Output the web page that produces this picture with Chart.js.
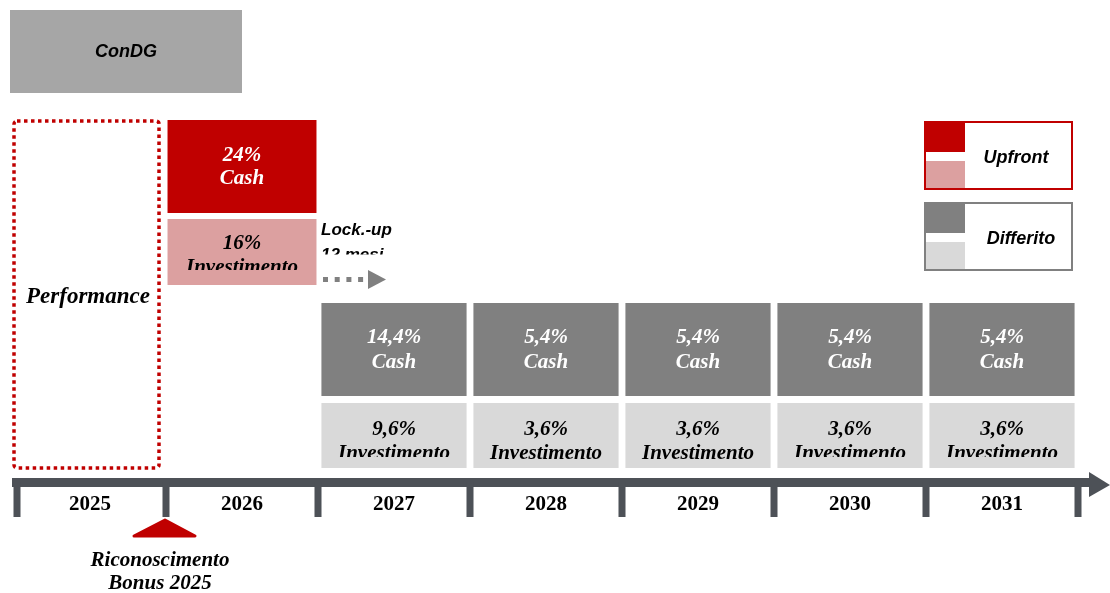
<!DOCTYPE html>
<html>
<head>
<meta charset="utf-8">
<script src="https://cdn.jsdelivr.net/npm/chart.js@4.4.1/dist/chart.umd.min.js"></script>
<style>
  html, body { margin: 0; padding: 0; background: #fff; }
  #wrap { width: 1110px; height: 593px; position: relative; }
</style>
</head>
<body>
<div id="wrap"><canvas id="plan"></canvas></div>
<script>
// Piano di pagamento bonus (percentuali)
const years = ["2025", "2026", "2027", "2028", "2029", "2030", "2031"]
const upfrontCash = [null, 24, null, null, null, null, null]
const upfrontInvest = [null, 16, null, null, null, null, null]
const deferredCash = [null, null, 14.4, 5.4, 5.4, 5.4, 5.4]
const deferredInvest = [null, null, 9.6, 3.6, 3.6, 3.6, 3.6]

// vertical bands of the layout (y axis runs top -> bottom, in px units)
const bands = {
  upCash: [120, 213],
  upInv: [219, 285],
  defCash: [303, 396],
  defInv: [403, 468],
}
// labels that overflow their text frame in the original
const clippedInvest = [1, 2, 5, 6]

const RED = "#c00000"
const PINK = "#dca0a0"
const DARK = "#808080"
const LIGHT = "#d9d9d9"
const AXIS = "#4d5157"
const SERIF = "'Liberation Serif', 'Times New Roman', serif"
const SANS = "'Liberation Sans', Arial, sans-serif"

function toBand(values, band) {
  return values.map((v) => (v === null ? null : band.slice()))
}

function pct(v) {
  return v.toLocaleString("it-IT") + "%"
}

const overlay = {
  id: "overlay",
  afterDatasetsDraw(chart) {
    const ctx = chart.ctx
    const xs = chart.scales.x
    const pitch = xs.getPixelForValue(1) - xs.getPixelForValue(0)
    const cx = (i) => xs.getPixelForValue(i)
    ctx.save()
    ctx.textAlign = "center"
    ctx.textBaseline = "middle"

    // ConDG header
    ctx.fillStyle = "#a6a6a6"
    ctx.fillRect(cx(0) - 80, 10, cx(1) - cx(0) + 80, 83)
    ctx.fillStyle = "#000"
    ctx.font = "italic bold 18px " + SANS
    ctx.fillText("ConDG", (cx(0) - 80 + cx(1)) / 2, 52)

    // Performance dotted frame
    ctx.strokeStyle = RED
    ctx.lineWidth = 3.5
    ctx.setLineDash([3.5, 3.5])
    ctx.beginPath()
    ctx.roundRect(cx(0) - 76, 121, 145, 347, 3)
    ctx.stroke()
    ctx.setLineDash([])
    ctx.fillStyle = "#000"
    ctx.font = "italic bold 23px " + SERIF
    ctx.fillText("Performance", cx(0) - 2, 297)

    // texts inside the boxes
    const boxText = (dsIndex, values, word, color, dy1, dy2, clipList, cut) => {
      const meta = chart.getDatasetMeta(dsIndex)
      values.forEach((v, i) => {
        if (v === null) return
        const bar = meta.data[i]
        const top = Math.min(bar.y, bar.base)
        ctx.save()
        if (clipList && clipList.includes(i)) {
          ctx.beginPath()
          ctx.rect(bar.x - bar.width / 2, top, bar.width, dy2 + cut)
          ctx.clip()
        }
        ctx.fillStyle = color
        ctx.font = "italic bold 21px " + SERIF
        ctx.fillText(pct(v), bar.x, top + dy1)
        ctx.fillText(word, bar.x, top + dy2)
        ctx.restore()
      })
    }
    boxText(0, upfrontCash, "Cash", "#fff", 36, 59)
    boxText(1, upfrontInvest, "Investimento", "#000", 25, 49, clippedInvest, 2)
    boxText(2, deferredCash, "Cash", "#fff", 35, 60)
    boxText(3, deferredInvest, "Investimento", "#000", 27, 51, clippedInvest, 3)

    // Lock-up note and dotted arrow
    const lx = cx(2) - pitch / 2 + 3
    ctx.textAlign = "left"
    ctx.fillStyle = "#000"
    ctx.font = "italic bold 17px " + SANS
    ctx.fillText("Lock.-up", lx, 230)
    ctx.save()
    ctx.beginPath()
    ctx.rect(lx - 5, 242, 120, 12.5)
    ctx.clip()
    ctx.fillText("12 mesi", lx, 255)
    ctx.restore()
    ctx.fillStyle = DARK
    for (let k = 0; k < 4; k++) ctx.fillRect(lx + 2 + k * 11.7, 277, 5, 5)
    ctx.beginPath()
    ctx.moveTo(lx + 47, 270)
    ctx.lineTo(lx + 65, 279.5)
    ctx.lineTo(lx + 47, 289)
    ctx.closePath()
    ctx.fill()

    // legend boxes
    const legend = (y, border, c1, c2, label, tx) => {
      ctx.fillStyle = c1
      ctx.fillRect(925, y, 40, 30)
      ctx.fillStyle = c2
      ctx.fillRect(925, y + 39, 40, 28)
      ctx.strokeStyle = border
      ctx.lineWidth = 2
      ctx.strokeRect(925, y, 147, 67)
      ctx.fillStyle = "#000"
      ctx.textAlign = "center"
      ctx.font = "italic bold 18px " + SANS
      ctx.fillText(label, tx, y + 36)
    }
    legend(122, RED, RED, PINK, "Upfront", 1016)
    legend(203, DARK, DARK, LIGHT, "Differito", 1021)

    // timeline axis
    ctx.fillStyle = AXIS
    ctx.fillRect(12, 478, 1080, 9)
    ctx.beginPath()
    ctx.moveTo(1089, 472)
    ctx.lineTo(1110, 485)
    ctx.lineTo(1089, 497)
    ctx.closePath()
    ctx.fill()
    for (let i = 0; i <= years.length; i++) {
      let tx = cx(0) + (i - 0.5) * pitch
      if (i === 0) tx += 3
      ctx.fillRect(tx - 3.5, 482, 7, 35)
    }
    ctx.fillStyle = "#000"
    ctx.font = "bold 21px " + SERIF
    years.forEach((y, i) => ctx.fillText(y, cx(i), 505))

    // bonus recognition marker
    const mx = cx(0) + pitch / 2
    ctx.fillStyle = RED
    ctx.strokeStyle = RED
    ctx.lineJoin = "round"
    ctx.lineWidth = 3
    ctx.beginPath()
    ctx.moveTo(mx - 1, 520)
    ctx.lineTo(mx + 29, 536)
    ctx.lineTo(mx - 32, 536)
    ctx.closePath()
    ctx.fill()
    ctx.stroke()
    ctx.fillStyle = "#000"
    ctx.font = "italic bold 21px " + SERIF
    ctx.fillText("Riconoscimento", mx - 6, 561)
    ctx.fillText("Bonus 2025", mx - 6, 584)

    ctx.restore()
  },
}

new Chart(document.getElementById("plan"), {
  type: "bar",
  data: {
    labels: years,
    datasets: [
      { label: "Upfront Cash", data: toBand(upfrontCash, bands.upCash), backgroundColor: RED, barPercentage: 0.98 },
      { label: "Upfront Investimento", data: toBand(upfrontInvest, bands.upInv), backgroundColor: PINK, barPercentage: 0.98 },
      { label: "Differito Cash", data: toBand(deferredCash, bands.defCash), backgroundColor: DARK, barPercentage: 0.955 },
      { label: "Differito Investimento", data: toBand(deferredInvest, bands.defInv), backgroundColor: LIGHT, barPercentage: 0.955 },
    ],
  },
  options: {
    responsive: true,
    maintainAspectRatio: false,
    animation: false,
    layout: { padding: { left: 14, right: 32, top: 0, bottom: 0 } },
    datasets: { bar: { grouped: false, categoryPercentage: 1, borderWidth: 0, borderSkipped: false } },
    plugins: { legend: { display: false }, tooltip: { enabled: false } },
    scales: {
      x: { display: false, offset: true, grid: { display: false } },
      y: { display: false, min: 0, max: 593, reverse: true },
    },
  },
  plugins: [overlay],
})
</script>
</body>
</html>
